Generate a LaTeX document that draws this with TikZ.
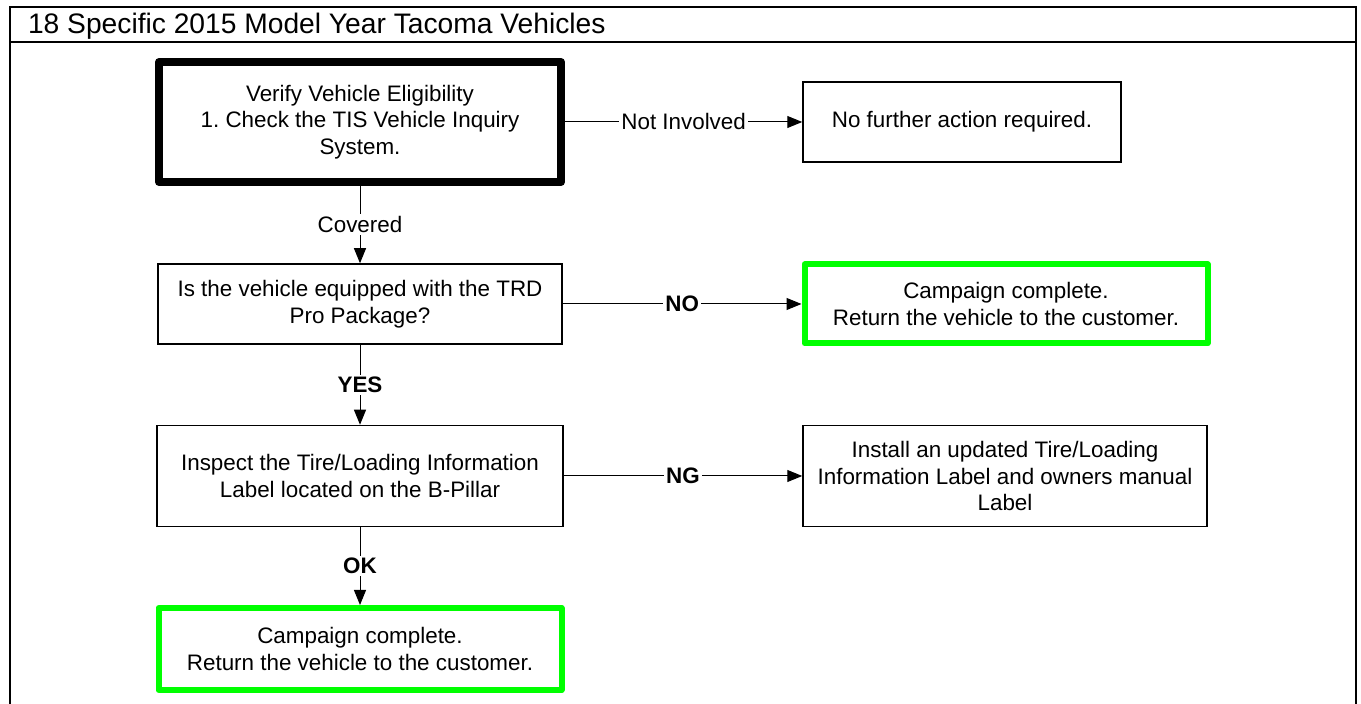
\documentclass[tikz,border=0pt]{standalone}
\usepackage{fontspec}
\setmainfont{Liberation Sans}
\usepackage{xcolor}
\usepackage{tikz}
\usetikzlibrary{arrows.meta}
\definecolor{okgreen}{RGB}{0,255,0}
\frenchspacing

\begin{document}
\begin{tikzpicture}[x=0.5pt,y=-0.5pt,
        box/.style={draw, line width=0.75pt, align=center, inner sep=0pt,
                    font=\fontsize{11.2}{13.25}\selectfont},
        startbox/.style={box, line width=4pt, line join=round},
        donebox/.style={box, draw=okgreen, line width=3pt, line join=round},
        lbl/.style={fill=white, inner sep=1pt, font=\fontsize{11.2}{13.25}\selectfont},
        conn/.style={-{Triangle[length=7.5pt,width=6pt]}, line width=0.5pt}]

        \useasboundingbox (0,0) rectangle (1361,704);
%        \draw[style=help lines, step=50] (0,0) grid (1361,704);

        % frame and title
				\draw[line width=1pt] (10,704) -- (10,7) -- (1356,7) -- (1356,704);
				\draw[line width=1pt] (10,42) -- (1356,42);
				\node[anchor=base west, font=\fontsize{14.1}{16}\selectfont] (title) at (21,34) {18 Specific 2015 Model Year Tacoma Vehicles};

        \node[startbox, minimum width=201pt, minimum height=60pt] (verify) at (360,122)
            {Verify Vehicle Eligibility\\1. Check the TIS Vehicle Inquiry\\System.};
        \node[box, minimum width=159pt, minimum height=40pt] (nofurther) at (962,122)
            {No further action required.};
        \node[box, minimum width=202pt, minimum height=40pt] (trd) at (360,304)
            {Is the vehicle equipped with the TRD\\Pro Package?};
        \node[donebox, minimum width=201.5pt, minimum height=39.5pt] (doneright) at (1006,304)
            {Campaign complete.\\Return the vehicle to the customer.};
        \node[box, minimum width=203pt, minimum height=50.5pt] (inspect) at (360,476)
            {Inspect the Tire/Loading Information\\Label located on the B-Pillar};
        \node[box, minimum width=202pt, minimum height=50.5pt] (install) at (1005,476)
            {Install an updated Tire/Loading\\Information Label and owners manual\\Label};
        \node[donebox, minimum width=201.5pt, minimum height=41pt] (donebottom) at (360,649)
            {Campaign complete.\\Return the vehicle to the customer.};

				\draw[conn] (verify) -- node[lbl] {Not Involved} (nofurther);
				\draw[conn] (verify) -- node[lbl] {Covered} (trd);
				\draw[conn] (trd) -- node[lbl, font=\fontsize{11.2}{13.25}\selectfont\bfseries] {NO} (doneright);
				\draw[conn] (trd) -- node[lbl, font=\fontsize{11.2}{13.25}\selectfont\bfseries] {YES} (inspect);
				\draw[conn] (inspect) -- node[lbl, font=\fontsize{11.2}{13.25}\selectfont\bfseries] {NG} (install);
				\draw[conn] (inspect) -- node[lbl, font=\fontsize{11.2}{13.25}\selectfont\bfseries] {OK} (donebottom);

    \end{tikzpicture}
\end{document}
